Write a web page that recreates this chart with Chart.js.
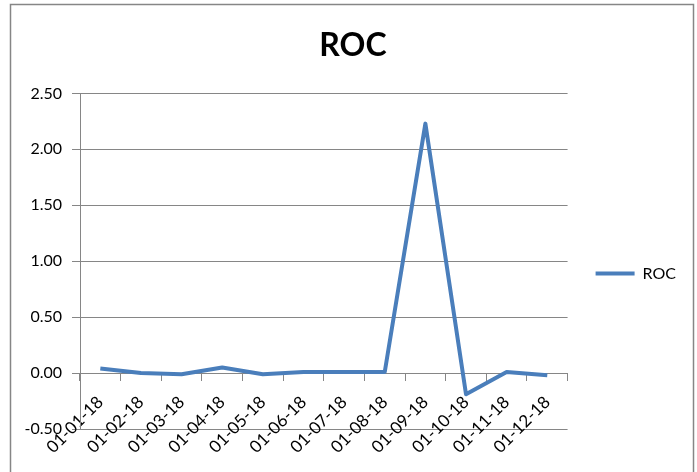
<!DOCTYPE html>
<html>
<head>
<meta charset="utf-8">
<script src="https://cdn.jsdelivr.net/npm/chart.js@4"></script>
<style>
  html, body { margin: 0; padding: 0; background: #fff; }
  #wrap { width: 697px; height: 472px; }
</style>
</head>
<body>
<div id="wrap"><canvas id="rocChart"></canvas></div>
<script>
const dates = ['01-01-18', '01-02-18', '01-03-18', '01-04-18', '01-05-18', '01-06-18',
	'01-07-18', '01-08-18', '01-09-18', '01-10-18', '01-11-18', '01-12-18'];
const rocValues = [0.04, 0.00, -0.01, 0.05, -0.01, 0.01, 0.01, 0.01, 2.23, -0.19, 0.01, -0.02];
const yMin = -0.5;
const yMax = 2.5;
const yStep = 0.5;

const gridGray = '#868686';
const lineBlue = '#4A7EBB';

// outer frame like the spreadsheet chart border
const frame = {
	id: 'frame',
	beforeDraw(chart) {
		const ctx = chart.ctx;
		ctx.save();
		ctx.fillStyle = '#fff';
		ctx.fillRect(0, 0, chart.width, chart.height);
		ctx.strokeStyle = gridGray;
		ctx.lineWidth = 1.5;
		ctx.strokeRect(10.5, 4.5, 683, 520);
		ctx.restore();
	}
};

// legend sits lower than chart.js would centre it
const legendShift = {
	id: 'legendShift',
	afterLayout(chart) {
		chart.legend.top += 59;
		chart.legend.bottom += 59;
	}
};

const drawRocChart = () => {
	new Chart(document.getElementById('rocChart'), {
		type: 'line',
		data: {
			labels: dates,
			datasets: [{
				label: 'ROC',
				data: rocValues,
				borderColor: lineBlue,
				backgroundColor: lineBlue,
				borderWidth: 4,
				pointRadius: 0,
				tension: 0,
				borderJoinStyle: 'round'
			}]
		},
		options: {
			responsive: true,
			maintainAspectRatio: false,
			animation: false,
			layout: {
				padding: { left: 20, right: 11, top: 0, bottom: 43 }
			},
			plugins: {
				title: {
					display: true,
					text: 'ROC',
					color: '#000',
					font: { family: 'Lato', size: 32, weight: 'bold' },
					padding: { top: 26, bottom: 29 }
				},
				legend: {
					position: 'right',
					labels: {
						color: '#000',
						font: { family: 'Lato', size: 16 },
						boxWidth: 39,
						boxHeight: 4,
						padding: 28,
						generateLabels(chart) {
							return Chart.defaults.plugins.legend.labels.generateLabels(chart)
								.map(item => ({ ...item, lineWidth: 0 }));
						}
					}
				},
				tooltip: { enabled: false }
			},
			scales: {
				x: {
					position: { y: 0 },
					offset: true,
					grid: {
						offset: true,
						drawOnChartArea: false,
						drawTicks: true,
						tickLength: 7,
						color: gridGray
					},
					border: { display: true, color: gridGray, width: 1 },
					ticks: {
						color: '#000',
						font: { family: 'Lato', size: 17 },
						minRotation: 45,
						maxRotation: 45,
						autoSkip: false,
						padding: 12
					}
				},
				y: {
					min: yMin,
					max: yMax,
					afterFit(scale) { scale.width = 60; },
					grid: {
						color: gridGray,
						tickLength: 8
					},
					border: { display: true, color: gridGray, width: 1 },
					ticks: {
						stepSize: yStep,
						color: '#000',
						font: { family: 'Lato', size: 16 },
						padding: 10,
						callback: v => Number(v).toFixed(2)
					}
				}
			}
		},
		plugins: [frame, legendShift]
	});
};

drawRocChart();
</script>
</body>
</html>
